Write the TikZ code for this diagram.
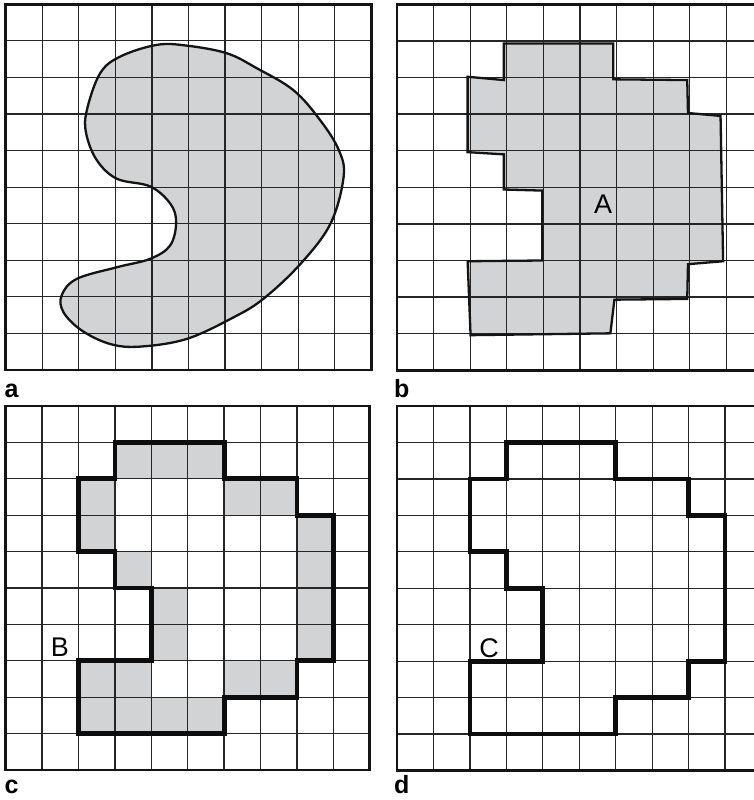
\documentclass[tikz,border=0pt]{standalone}
\usepackage{fontspec}
\setmainfont{Liberation Sans}
\definecolor{cellgray}{HTML}{D1D3D4}
\newcommand\panelgrid{%
  \foreach \i in {1,...,9}{%
    \draw[gridline] (\i,0) -- (\i,10);
    \draw[gridline] (0,\i) -- (10,\i);
  }%
  \draw[frameline] (0,0) rectangle (10,10);%
}
\begin{document}
\begin{tikzpicture}[x=1pt,y=-1pt,
  gridline/.style={line width=1.25pt, draw=black!85},
  frameline/.style={line width=2.5pt, draw=black!92},
  grayfill/.style={fill=cellgray},
  thinout/.style={line width=2.3pt, draw=black!92, line join=miter},
  thickout/.style={line width=4.8pt, draw=black!95, line join=miter},
  panellabel/.style={font=\fontsize{25}{25}\selectfont\bfseries, anchor=base west, inner sep=0pt},
  regionlabel/.style={font=\fontsize{27}{27}\selectfont, inner sep=0pt}]
\useasboundingbox (0,0) rectangle (754,800);
\clip (0,0) rectangle (754,800);
\fill[white] (0,0) rectangle (754,800);

% ---------- panel a ----------
\begin{scope}[shift={(5.7pt,-4.3pt)}, x=36.57pt, y=-36.57pt]
  \def\blob{plot[smooth cycle, tension=0.6] coordinates {
    (4.13,1.11) (4.95,1.13) (6.05,1.34) (6.87,1.75) (7.87,2.35) (8.60,3.17)
    (9.11,3.99) (9.24,4.72) (8.88,6.0) (8.06,7.10) (7.05,8.05) (6.23,8.56)
    (4.95,9.15) (3.68,9.36) (2.86,9.29) (2.08,8.92) (1.58,8.42) (1.53,7.96)
    (1.94,7.51) (3.04,7.19) (3.95,6.96) (4.50,6.59) (4.66,5.95) (4.50,5.45)
    (3.95,4.98) (3.04,4.77) (2.49,4.26) (2.20,3.53) (2.22,2.89) (2.58,1.89)
    (3.13,1.43)}}
  \path[grayfill] \blob;
  \panelgrid
  \draw[thinout] \blob;
\end{scope}

% ---------- panel b ----------
\begin{scope}[shift={(397pt,-4.3pt)}, x=36.6pt, y=-36.6pt]
  \def\poly{(2.92,1.07) -- (5.91,1.07) -- (5.91,2.05) -- (7.93,2.07) -- (7.95,2.97)
    -- (8.84,3.05) -- (8.91,7.02) -- (7.95,7.10) -- (7.93,8.05) -- (5.94,8.07)
    -- (5.83,8.99) -- (2.01,9.04) -- (1.93,7.02) -- (3.97,7.00) -- (3.97,5.09)
    -- (2.92,5.06) -- (2.92,4.10) -- (1.93,4.04) -- (1.93,1.98) -- (2.92,2.07) -- cycle}
  \path[grayfill] \poly;
  \panelgrid
  \draw[thinout] \poly;
\end{scope}

% ---------- panel c ----------
\begin{scope}[shift={(5.7pt,-406pt)}, x=36.4pt, y=-36.4pt]
  \foreach \c/\r in {3/1,4/1,5/1,2/2,6/2,7/2,2/3,8/3,3/4,8/4,4/5,8/5,4/6,8/6,
                     2/7,3/7,6/7,7/7,2/8,3/8,4/8,5/8}
    \path[grayfill] (\c,\r) rectangle ++(1,1);
  \panelgrid
  \draw[thickout] (3,1) -- (6,1) -- (6,2) -- (8,2) -- (8,3) -- (9,3) -- (9,7)
    -- (8,7) -- (8,8) -- (6,8) -- (6,9) -- (2,9) -- (2,7) -- (4,7) -- (4,5)
    -- (3,5) -- (3,4) -- (2,4) -- (2,2) -- (3,2) -- cycle;
\end{scope}

% ---------- panel d ----------
\begin{scope}[shift={(397pt,-406pt)}, x=36.45pt, y=-36.45pt]
  \panelgrid
  \draw[thickout] (3,1) -- (6,1) -- (6,2) -- (8,2) -- (8,3) -- (9,3) -- (9,7)
    -- (8,7) -- (8,8) -- (6,8) -- (6,9) -- (2,9) -- (2,7) -- (4,7) -- (4,5)
    -- (3,5) -- (3,4) -- (2,4) -- (2,2) -- (3,2) -- cycle;
\end{scope}

% ---------- labels ----------
\node[regionlabel] (lA) at (603,204) {A};
\node[regionlabel] (lB) at (60,647) {B};
\node[regionlabel] (lC) at (489,648) {C};
\node[panellabel] (pa) at (4.5,397) {a};
\node[panellabel] (pb) at (394,397) {b};
\node[panellabel] (pc) at (4.5,793) {c};
\node[panellabel] (pd) at (394,793) {d};
\end{tikzpicture}
\end{document}
